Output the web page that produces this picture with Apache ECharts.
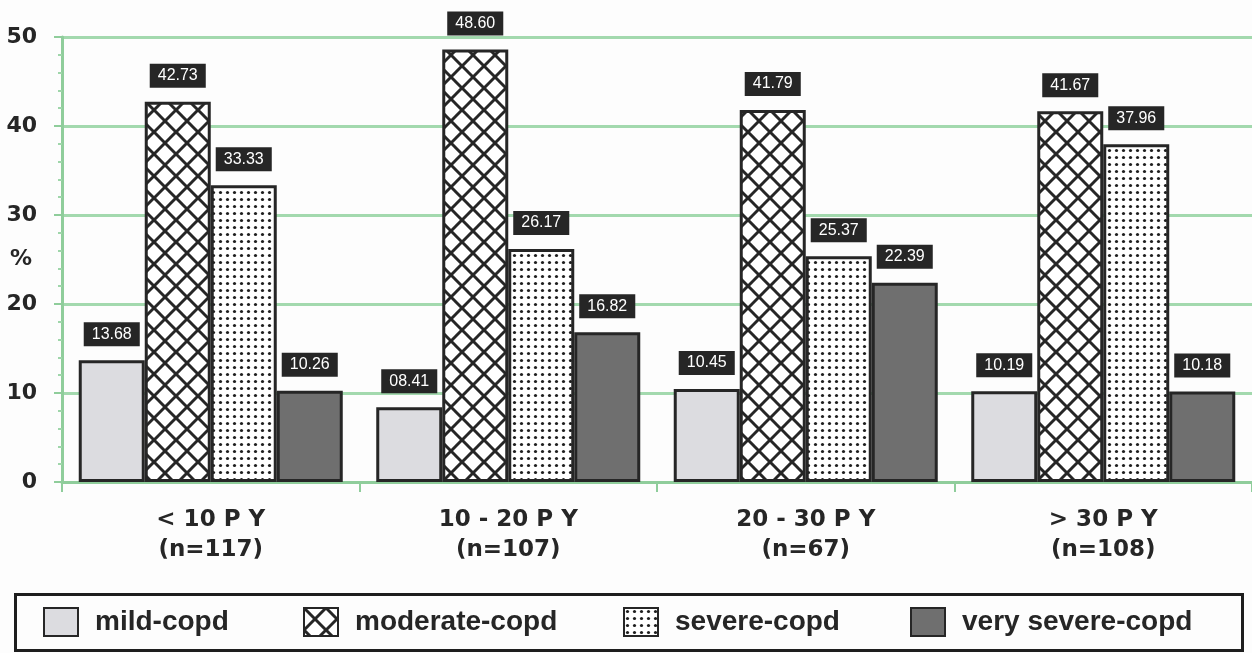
<!DOCTYPE html>
<html>
<head>
<meta charset="utf-8">
<script src="https://cdn.jsdelivr.net/npm/echarts@6/dist/echarts.min.js"></script>
<style>
html,body{margin:0;padding:0;background:#fdfdfd;}
#chart{width:1252px;height:653px;}
</style>
</head>
<body>
<div id="chart"></div>
<script>
const categories = ['< 10 P Y\n(n=117)', '10 - 20 P Y\n(n=107)', '20 - 30 P Y\n(n=67)', '> 30 P Y\n(n=108)'];
const seriesNames = ['mild-copd', 'moderate-copd', 'severe-copd', 'very severe-copd'];
const mild = [13.68, 8.41, 10.45, 10.19];
const moderate = [42.73, 48.60, 41.79, 41.67];
const severe = [33.33, 26.17, 25.37, 37.96];
const verySevere = [10.26, 16.82, 22.39, 10.18];
const yTicks = [0, 10, 20, 30, 40, 50];

function crossHatch() {
  const s = 22, c = document.createElement('canvas');
  c.width = s; c.height = s;
  const g = c.getContext('2d');
  g.fillStyle = '#ffffff'; g.fillRect(0, 0, s, s);
  g.strokeStyle = '#262626'; g.lineWidth = 3;
  for (let k = -1; k <= 1; k++) {
    g.beginPath(); g.moveTo(k * s, 0); g.lineTo(k * s + s, s); g.stroke();
    g.beginPath(); g.moveTo(k * s + s, 0); g.lineTo(k * s, s); g.stroke();
  }
  return c;
}
function dots() {
  const w = 7, h = 7, c = document.createElement('canvas');
  c.width = w; c.height = h;
  const g = c.getContext('2d');
  g.fillStyle = '#ffffff'; g.fillRect(0, 0, w, h);
  g.fillStyle = '#1e1e1e';
  g.beginPath(); g.arc(3.5, 3.5, 1.6, 0, Math.PI * 2); g.fill();
  return c;
}

const fills = [
  '#dcdce0',
  { image: crossHatch(), repeat: 'repeat' },
  { image: dots(), repeat: 'repeat' },
  '#6f6f6f'
];
const dataSets = [mild, moderate, severe, verySevere];

const chart = echarts.init(document.getElementById('chart'), null, { renderer: 'canvas' });
const green = '#a3d9ae';
const legendLeft = [43, 303, 623, 910];

chart.setOption({
  animation: false,
  backgroundColor: '#fdfdfd',
  grid: { left: 62, right: 0, top: 37, bottom: 171, containLabel: false, outerBoundsMode: 'none' },
  xAxis: {
    type: 'category',
    data: categories,
    axisLine: { lineStyle: { color: '#8fcd9b', width: 3 } },
    axisTick: { show: true, length: 10, lineStyle: { color: '#8fcd9b', width: 2 } },
    axisLabel: {
      margin: 23, color: '#262626', fontFamily: 'DejaVu Sans', fontWeight: 'bold',
      fontSize: 23, lineHeight: 30
    }
  },
  yAxis: {
    type: 'value', min: yTicks[0], max: yTicks[yTicks.length - 1], interval: 10,
    name: '%', nameLocation: 'middle', nameRotate: 0, nameGap: 30, nameMoveOverlap: false,
    nameTextStyle: { color: '#262626', fontFamily: 'DejaVu Sans', fontWeight: 'bold', fontSize: 22, align: 'right', verticalAlign: 'middle' },
    axisLine: { show: true, lineStyle: { color: '#8fcd9b', width: 3 } },
    axisTick: { show: true, length: 8, lineStyle: { color: '#8fcd9b', width: 2 } },
    minorTick: { show: true, splitNumber: 5, length: 4, lineStyle: { color: '#9fd6aa', width: 2 } },
    splitLine: { show: true, lineStyle: { color: green, width: 3 } },
    axisLabel: {
      margin: 25, color: '#262626', fontFamily: 'DejaVu Sans', fontWeight: 'bold', fontSize: 22
    }
  },
  legend: legendLeft.map((l, i) => ({
    data: [seriesNames[i]],
    left: l, top: 607, padding: 0,
    icon: 'rect',
    itemWidth: 34, itemHeight: 28,
    textStyle: {
      color: '#262626', fontFamily: 'Liberation Sans', fontWeight: 'bold', fontSize: 28,
      padding: [0, 0, 0, 12]
    }
  })),
  graphic: [{
    type: 'rect', left: 13, top: 592,
    shape: { width: 1227, height: 56 },
    style: { fill: 'none', stroke: '#1e1e1e', lineWidth: 3 }
  }],
  series: dataSets.map((d, i) => ({
    name: seriesNames[i],
    type: 'bar',
    data: d,
    barWidth: 66,
    barGap: '0%',
    itemStyle: { color: fills[i], borderColor: '#262626', borderWidth: 3 },
    label: {
      show: true, position: 'top', distance: 14,
      formatter: p => p.value.toFixed(2).padStart(5, '0'),
      backgroundColor: '#262626', color: '#ffffff', padding: [4, 8],
      fontFamily: 'Liberation Sans', fontSize: 16
    }
  }))
});
</script>
</body>
</html>
